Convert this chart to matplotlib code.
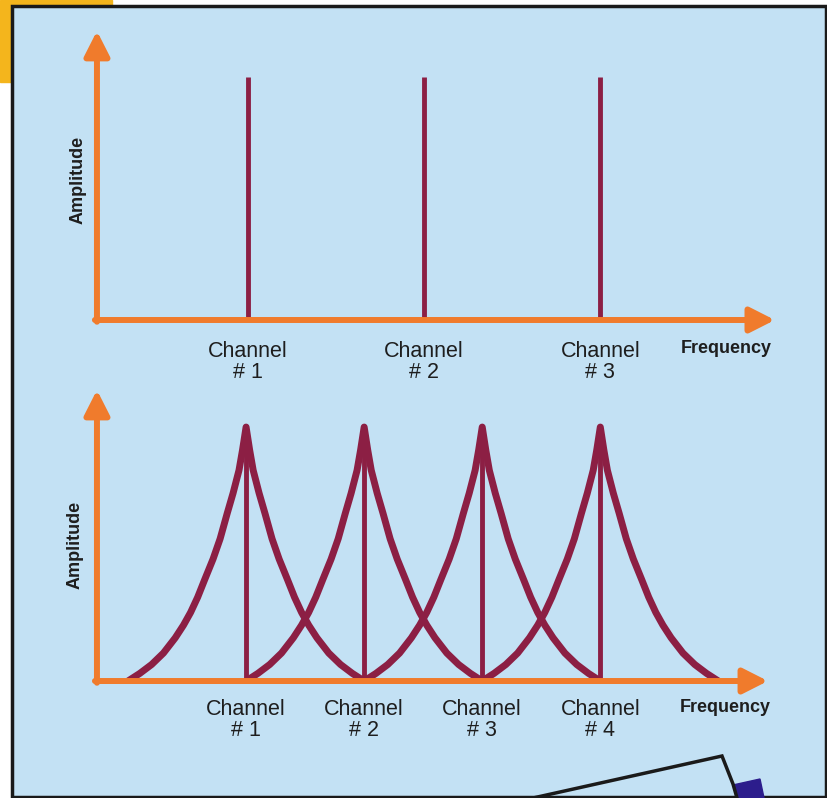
import matplotlib
matplotlib.use("Agg")
import matplotlib.pyplot as plt
from matplotlib.patches import Rectangle, Polygon

plt.rcParams['font.family'] = ['Liberation Sans', 'DejaVu Sans']

# data
top_channels = [1, 2, 3]
top_amplitude = [1.0, 1.0, 1.0]
top_labels = ['Channel\n# 1', 'Channel\n# 2', 'Channel\n# 3']

bottom_channels = [1, 2, 3, 4]
bottom_labels = ['Channel\n# 1', 'Channel\n# 2', 'Channel\n# 3', 'Channel\n# 4']

# one channel's response (offset from centre, relative amplitude)
resp_offset = [0.0, 0.03, 0.06, 0.11, 0.16, 0.22, 0.28, 0.35, 0.41, 0.47, 0.53,
               0.60, 0.70, 0.80, 0.90, 1.0]
resp_amp = [1.0, 0.91, 0.83, 0.74, 0.66, 0.56, 0.48, 0.40, 0.33, 0.27, 0.22,
            0.17, 0.11, 0.065, 0.03, 0.0]

blue = '#c3e1f4'
orange = '#f07b2c'
maroon = '#8c1f44'
text_col = '#1e1e1e'

fig = plt.figure(figsize=(8.28, 7.98), dpi=100)
fig.patch.set_facecolor('white')

# background: yellow corner, blue panel with black frame, paper corner
bg = fig.add_axes([0, 0, 1, 1], zorder=0)
bg.set_xlim(0, 828)
bg.set_ylim(798, 0)
bg.axis('off')
bg.add_patch(Rectangle((0, 0), 112, 82, color='#f4b51c'))
bg.add_patch(Rectangle((12, 6), 814, 791, facecolor=blue, edgecolor='#1a1a1a', lw=2.5))
bg.plot([533, 722, 733, 737], [798, 756, 784, 798], color='#1a1a1a', lw=2.5,
        solid_joinstyle='miter')
bg.add_patch(Polygon([[733, 785], [760, 779], [764, 798], [737, 798]], color='#2c1d8c'))


def draw_axes(ax):
    ax.set_facecolor('none')
    for s in ax.spines.values():
        s.set_visible(False)
    ax.set_yticks([])
    arrow = dict(arrowstyle='-|>,head_length=0.75,head_width=0.38', color=orange,
                 lw=4.3, mutation_scale=20, shrinkA=0, shrinkB=0)
    ax.annotate('', xy=(1, 0), xytext=(-0.003, 0), xycoords='axes fraction', arrowprops=arrow)
    ax.annotate('', xy=(0, 1), xytext=(0, -0.006), xycoords='axes fraction', arrowprops=arrow)
    ax.tick_params(axis='x', length=0, labelsize=15.5, labelcolor=text_col)
    for lbl in ax.get_xticklabels():
        lbl.set_linespacing(1.0)


# top panel: single-frequency channels
ax1 = fig.add_axes([0.1171, 0.599, 0.8188, 0.3622], zorder=1)
ax1.set_xlim(0.145, 3.99)
ax1.set_ylim(0, 1.19)
ax1.vlines(top_channels, 0, top_amplitude, color=maroon, lw=3.5, zorder=2)
ax1.set_xticks(top_channels)
ax1.set_xticklabels(top_labels)
ax1.tick_params(axis='x', pad=15)
draw_axes(ax1)
ax1.text(0.928, -0.1, 'Frequency', transform=ax1.transAxes, ha='center', va='center',
         fontsize=13, fontweight='bold', color=text_col)
ax1.text(-0.028, 0.484, 'Amplitude', transform=ax1.transAxes, ha='center', va='center',
         rotation=90, fontsize=13, fontweight='bold', color=text_col)

# bottom panel: overlapping channel responses
ax2 = fig.add_axes([0.1171, 0.1466, 0.8104, 0.3647], zorder=1)
ax2.set_xlim(-0.263, 5.42)
ax2.set_ylim(0, 1.146)
for c in bottom_channels:
    xs = [c - d for d in resp_offset[::-1]] + [c + d for d in resp_offset[1:]]
    ys = resp_amp[::-1] + resp_amp[1:]
    ax2.plot(xs, ys, color=maroon, lw=5, solid_joinstyle='round', solid_capstyle='butt', zorder=2)
ax2.vlines(bottom_channels, 0, 1.0, color=maroon, lw=3.5, zorder=2)
ax2.set_xticks(bottom_channels)
ax2.set_xticklabels(bottom_labels)
ax2.tick_params(axis='x', pad=13)
draw_axes(ax2)
ax2.text(0.937, -0.092, 'Frequency', transform=ax2.transAxes, ha='center', va='center',
         fontsize=13, fontweight='bold', color=text_col)
ax2.text(-0.033, 0.467, 'Amplitude', transform=ax2.transAxes, ha='center', va='center',
         rotation=90, fontsize=13, fontweight='bold', color=text_col)

fig.savefig('out.png', dpi=100)
